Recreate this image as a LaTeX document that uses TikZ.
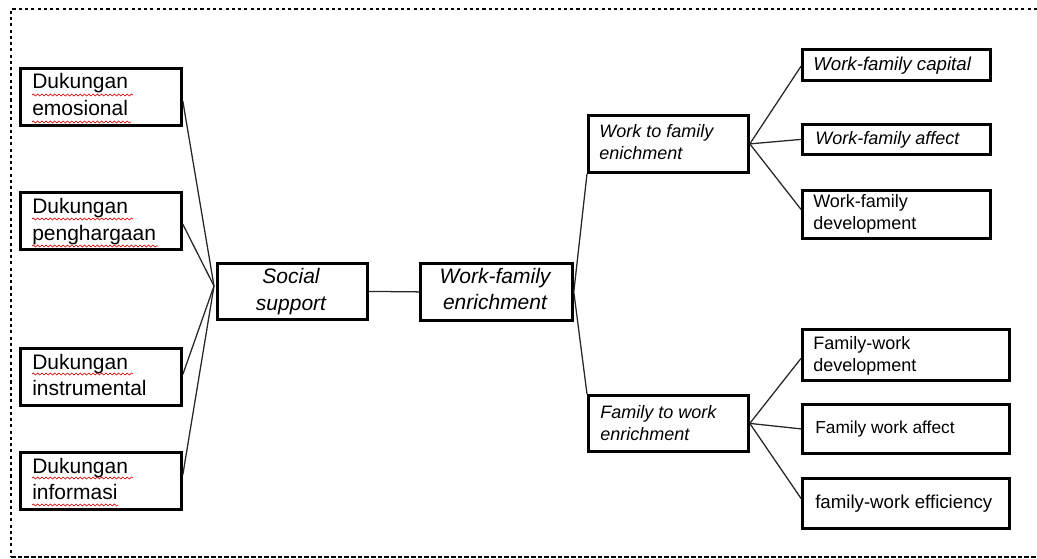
\documentclass[tikz,border=0pt]{standalone}
\usepackage{fontspec}
\setmainfont{Liberation Sans}
\usetikzlibrary{decorations.pathmorphing}
\newcommand\fbig{\fontsize{15.75}{20}\selectfont}
\newcommand\fmid{\fontsize{13.5}{16.5}\selectfont}
\newcommand\fcap{\fontsize{14}{16.8}\selectfont}
\newcommand\fsml{\fontsize{13}{16}\selectfont}
\newcommand\tl[1]{\begin{tabular}[t]{@{}l@{}}#1\end{tabular}}
\newcommand\tc[1]{\begin{tabular}[t]{@{}c@{}}#1\end{tabular}}
\begin{document}
\begin{tikzpicture}[x=0.75pt,y=-0.75pt,
  box/.style={draw, line width=2.1pt, inner sep=0pt, rectangle, anchor=north west},
  link/.style={draw=black!85, line width=0.95pt},
  txt/.style={inner sep=0pt, anchor=base west},
  ctxt/.style={inner sep=0pt, anchor=base},
  squig/.style={draw=red!85!black, line width=0.45pt, decorate,
    decoration={snake, segment length=3.2pt, amplitude=0.75pt}}]
\useasboundingbox (0,0) rectangle (1037,559);
\newcommand\boxat[5]{\node[box, minimum width=#4*0.75pt, minimum height=#5*0.75pt] (#1) at (#2,#3) {};}
% frame
\draw[line width=2pt, dash pattern=on 2.3pt off 2.4pt] (1037,9) -- (11,9) -- (11,557);
\draw[line width=1.5pt, dash pattern=on 3.6pt off 1.4pt] (11,557) -- (1037,557);
% boxes
\boxat{emo}{19}{67}{161}{57}
\boxat{peng}{19}{191}{161}{57}
\boxat{instr}{19}{347}{161}{57}
\boxat{info}{19}{451}{161}{57}
\boxat{soc}{216}{262}{150}{56}
\boxat{wfe}{419}{262}{152}{57}
\boxat{wtf}{587}{114}{160}{57}
\boxat{ftw}{587}{394}{160}{56}
\boxat{cap}{801}{48}{188}{31}
\boxat{aff}{801}{123}{188}{30}
\boxat{wfd}{801}{189}{188}{48}
\boxat{fwd}{801}{328}{207}{51}
\boxat{fwa}{801}{403}{207}{49}
\boxat{eff}{801}{477}{207}{50}
% texts
\node[txt, font=\fbig] (emo-t) at (32,89) {\tl{Dukungan\\emosional}};
\node[txt, font=\fbig] (peng-t) at (32,214) {\tl{Dukungan\\penghargaan}};
\node[txt, font=\fbig] (instr-t) at (32,369) {\tl{Dukungan\\instrumental}};
\node[txt, font=\fbig] (info-t) at (32,473) {\tl{Dukungan\\informasi}};
\node[ctxt, font=\fbig\itshape] (soc-t) at (291,284) {\tc{Social\\support}};
\node[ctxt, font=\fbig\itshape] (wfe-t) at (495,283) {\tc{Work-family\\enrichment}};
\node[txt, font=\fmid\itshape] (wtf-t) at (599,138) {\tl{Work to family\\enichment}};
\node[txt, font=\fmid\itshape] (ftw-t) at (600,418) {\tl{Family to work\\enrichment}};
\node[txt, font=\fcap\itshape] (cap-t) at (813,71) {Work-family capital};
\node[txt, font=\fmid\itshape] (aff-t) at (815,145) {Work-family affect};
\node[txt, font=\fmid] (wfd-t) at (813,208) {\tl{Work-family\\development}};
\node[txt, font=\fmid] (fwd-t) at (813,349) {\tl{Family-work\\development}};
\node[txt, font=\fsml] (fwa-t) at (815,433) {Family work affect};
\node[txt, font=\fcap] (eff-t) at (815,508) {family-work efficiency};
% spelling marks
\draw[squig] (32,95) -- (133,95);
\draw[squig] (32,122) -- (131,122);
\draw[squig] (32,219) -- (133,219);
\draw[squig] (32,246) -- (158,246);
\draw[squig] (32,374) -- (133,374);
\draw[squig] (32,478) -- (133,478);
\draw[squig] (32,505) -- (118,505);
% connectors
\coordinate (hub) at (214,286);
\draw[link] ([yshift=-3pt]emo.east) -- (hub);
\draw[link] ([yshift=-2.5pt]peng.east) -- (hub);
\draw[link] ([yshift=1.8pt]instr.east) -- (hub);
\draw[link] ([yshift=4.5pt]info.east) -- (hub);
\draw[link] (soc.east) -- (wfe.west);
\draw[link] (wfe.east) -- (wtf.south west);
\draw[link] (wfe.east) -- (ftw.north west);
\draw[link] (wtf.east) -- ([yshift=-1pt]cap.west);
\draw[link] (wtf.east) -- (aff.west);
\draw[link] (wtf.east) -- ([yshift=3.75pt]wfd.west);
\draw[link] (ftw.east) -- ([yshift=-2.6pt]fwd.west);
\draw[link] (ftw.east) -- (fwa.west);
\draw[link] (ftw.east) -- ([yshift=3.75pt]eff.west);
\end{tikzpicture}
\end{document}
